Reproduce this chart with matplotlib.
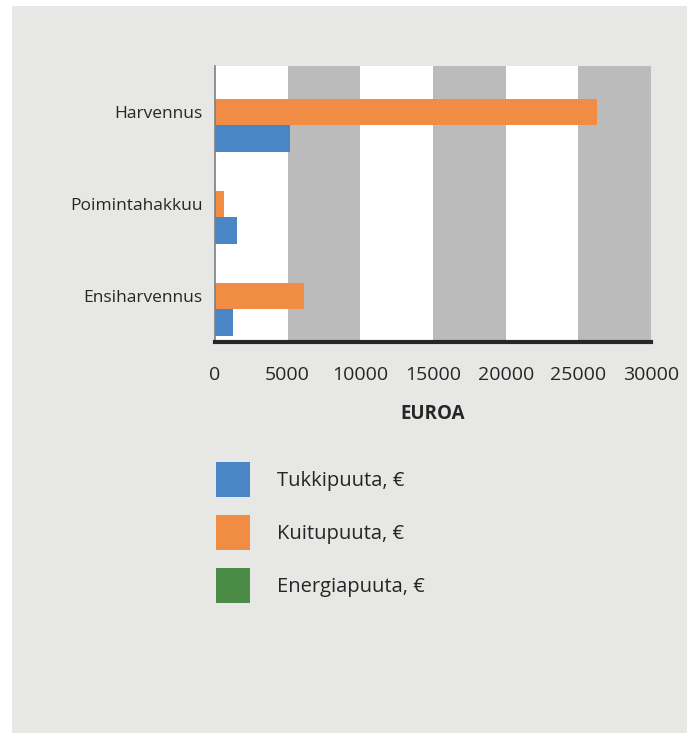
import matplotlib.pyplot as plt
from matplotlib.patches import Rectangle

# --- data ---
categories = ["Ensiharvennus", "Poimintahakkuu", "Harvennus"]
tukkipuuta = [1260, 1530, 5180]
kuitupuuta = [6150, 640, 26300]
energiapuuta = [0, 0, 0]
series_names = ["Tukkipuuta, €", "Kuitupuuta, €", "Energiapuuta, €"]
x_ticks = [0, 5000, 10000, 15000, 20000, 25000, 30000]

colors = ["#4a86c6", "#f18c45", "#4a8b45"]
band_color = "#babbba"
panel_color = "#e7e7e5"

plt.rcParams["font.family"] = ["Open Sans", "DejaVu Sans"]

W, H = 694, 733
fig = plt.figure(figsize=(W / 100, H / 100), dpi=100)
fig.patch.set_facecolor("white")

# grey background panel
fig.patches.append(Rectangle((12 / W, 0), (687 - 12) / W, 1 - 6 / H,
                             transform=fig.transFigure, facecolor=panel_color,
                             edgecolor="none", zorder=-10))

# plot area in pixels
left, right, top, bottom = 215, 651, 66, 342
ax = fig.add_axes([left / W, 1 - bottom / H, (right - left) / W, (bottom - top) / H])
ax.set_facecolor("white")

# alternating bands
for i in range(1, len(x_ticks) - 1, 2):
    ax.axvspan(x_ticks[i], x_ticks[i + 1], color=band_color, lw=0, zorder=0)

h = 0.29
y = list(range(len(categories)))
bars = []
for k, vals in enumerate([tukkipuuta, kuitupuuta, energiapuuta]):
    off = (k - 1) * h
    b = ax.barh([v + off for v in y], vals, height=h, color=colors[k],
                label=series_names[k], zorder=2)
    bars.append(b)

ax.set_xlim(0, 30000)
ax.set_ylim(-0.5, 2.5)
ax.set_xticks(x_ticks)
ax.set_xticklabels([str(t) for t in x_ticks])
ax.set_yticks(y)
ax.set_yticklabels(categories)
ax.tick_params(axis="x", length=0, pad=17, labelsize=14, colors="#262626")
ax.tick_params(axis="y", length=0, pad=9, labelsize=12.5, colors="#262626")

for s in ["top", "right"]:
    ax.spines[s].set_visible(False)
ax.spines["left"].set_color("#7f7f7f")
ax.spines["left"].set_linewidth(1.2)
ax.spines["bottom"].set_color("#262626")
ax.spines["bottom"].set_linewidth(3)
ax.spines["bottom"].set_zorder(3)

ax.set_xlabel("EUROA", fontsize=13.5, fontweight="bold", color="#262626", labelpad=15)

# legend: 35 px squares, rows 53 px apart
fs = 14.5
leg = fig.legend(handles=bars, labels=series_names, loc="upper left",
                 bbox_to_anchor=(216 / W, 1 - 462 / H), frameon=False,
                 fontsize=fs, handlelength=1.67, handleheight=2.3,
                 handletextpad=1.35, labelspacing=0.9, borderpad=0,
                 borderaxespad=0)
for t in leg.get_texts():
    t.set_color("#262626")

fig.savefig("out.png", dpi=100)
